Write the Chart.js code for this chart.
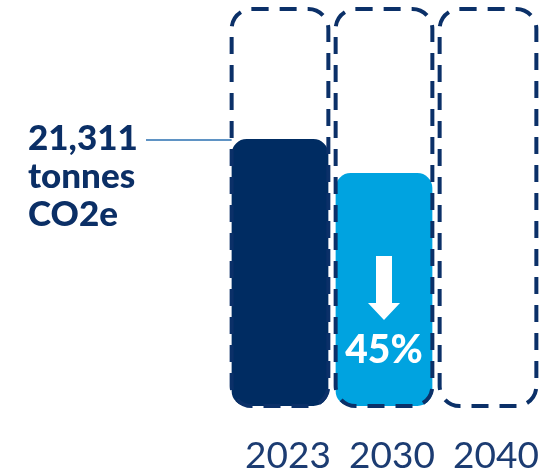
<!DOCTYPE html>
<html>
<head>
<meta charset="utf-8">
<script src="https://cdn.jsdelivr.net/npm/chart.js@4/dist/chart.umd.min.js"></script>
<style>
  html, body { margin: 0; padding: 0; background: #ffffff; }
  #wrap { width: 549px; height: 472px; }
</style>
</head>
<body>
<div id="wrap"><canvas id="emissionsChart"></canvas></div>
<script>
// Chart data
const years = ['2023', '2030', '2040'];
const emissions = [21311, 18600, null];      // bar heights
const targetOutline = [31700, 31700, 31700];  // dashed boxes
const totalLabel = ['21,311', 'tonnes', 'CO2e'];
const reductionLabel = '45%';

const NAVY = '#002c62';
const SKY = '#00a3e0';

// Dashed rounded outlines around every category
const dashedBoxes = {
    id: 'dashedBoxes',
    afterDatasetsDraw(chart) {
        const ctx = chart.ctx;
        const meta = chart.getDatasetMeta(1);
        ctx.save();
        ctx.strokeStyle = '#0b3068';
        ctx.lineWidth = 4;
        ctx.setLineDash([17, 11]);
        meta.data.forEach(bar => {
            const p = bar.getProps(['x', 'y', 'base', 'width'], true);
            ctx.beginPath();
            ctx.roundRect(p.x - p.width / 2, p.y, p.width, p.base - p.y, 20);
            ctx.stroke();
        });
        ctx.restore();
    }
};

// Left label with leader line, arrow + percentage in the 2030 bar
const annotations = {
    id: 'annotations',
    afterDatasetsDraw(chart) {
        const ctx = chart.ctx;
        const bars = chart.getDatasetMeta(0).data;
        const first = bars[0].getProps(['x', 'y', 'base', 'width'], true);
        const second = bars[1].getProps(['x', 'y', 'base', 'width'], true);
        const area = chart.chartArea;

        ctx.save();
        // leader line
        const lineY = first.y + 1;
        ctx.strokeStyle = '#2a6fb0';
        ctx.lineWidth = 1.5;
        ctx.beginPath();
        ctx.moveTo(area.left - 82, lineY);
        ctx.lineTo(first.x - first.width / 2, lineY);
        ctx.stroke();

        // total label
        ctx.fillStyle = '#0b2f66';
        ctx.font = '900 35px Lato';
        ctx.textAlign = 'left';
        ctx.textBaseline = 'alphabetic';
        totalLabel.forEach((t, i) => {
            ctx.fillText(t, area.left - 200, lineY + 10 + i * 38);
        });

        // arrow
        const cx = second.x;
        const b = second.base;
        ctx.fillStyle = '#ffffff';
        ctx.beginPath();
        ctx.moveTo(cx - 8, b - 150);
        ctx.lineTo(cx + 8, b - 150);
        ctx.lineTo(cx + 8, b - 103);
        ctx.lineTo(cx + 16, b - 103);
        ctx.lineTo(cx, b - 86);
        ctx.lineTo(cx - 16, b - 103);
        ctx.lineTo(cx - 8, b - 103);
        ctx.closePath();
        ctx.fill();

        ctx.font = '900 39px Lato';
        ctx.textAlign = 'center';
        ctx.fillText(reductionLabel, cx, b - 43);
        ctx.restore();
    }
};

const ctx = document.getElementById('emissionsChart').getContext('2d');
new Chart(ctx, {
    type: 'bar',
    data: {
        labels: years,
        datasets: [
            {
                label: 'Emissions',
                data: emissions,
                backgroundColor: [NAVY, SKY, 'rgba(0,0,0,0)'],
                borderWidth: 0,
                borderRadius: 15,
                borderSkipped: false,
                grouped: false,
                categoryPercentage: 1,
                barPercentage: 0.93
            },
            {
                label: 'Target',
                data: targetOutline,
                backgroundColor: 'rgba(0,0,0,0)',
                borderWidth: 0,
                grouped: false,
                categoryPercentage: 1,
                barPercentage: 0.93
            }
        ]
    },
    options: {
        responsive: true,
        maintainAspectRatio: false,
        animation: false,
        layout: { padding: { left: 228, right: 9, top: 9, bottom: 0 } },
        scales: {
            x: {
                grid: { display: false },
                border: { display: false },
                ticks: {
                    color: '#1c3c72',
                    font: { family: 'Lato', size: 37 },
                    padding: 20,
                    labelOffset: 8
                },
                afterFit(scale) {
                    scale.height = 66;
                    scale.paddingLeft = 0;
                    scale.paddingRight = 0;
                }
            },
            y: {
                display: false,
                min: 0,
                max: 31700
            }
        },
        plugins: {
            legend: { display: false },
            tooltip: { enabled: false }
        }
    },
    plugins: [dashedBoxes, annotations]
});
</script>
</body>
</html>
